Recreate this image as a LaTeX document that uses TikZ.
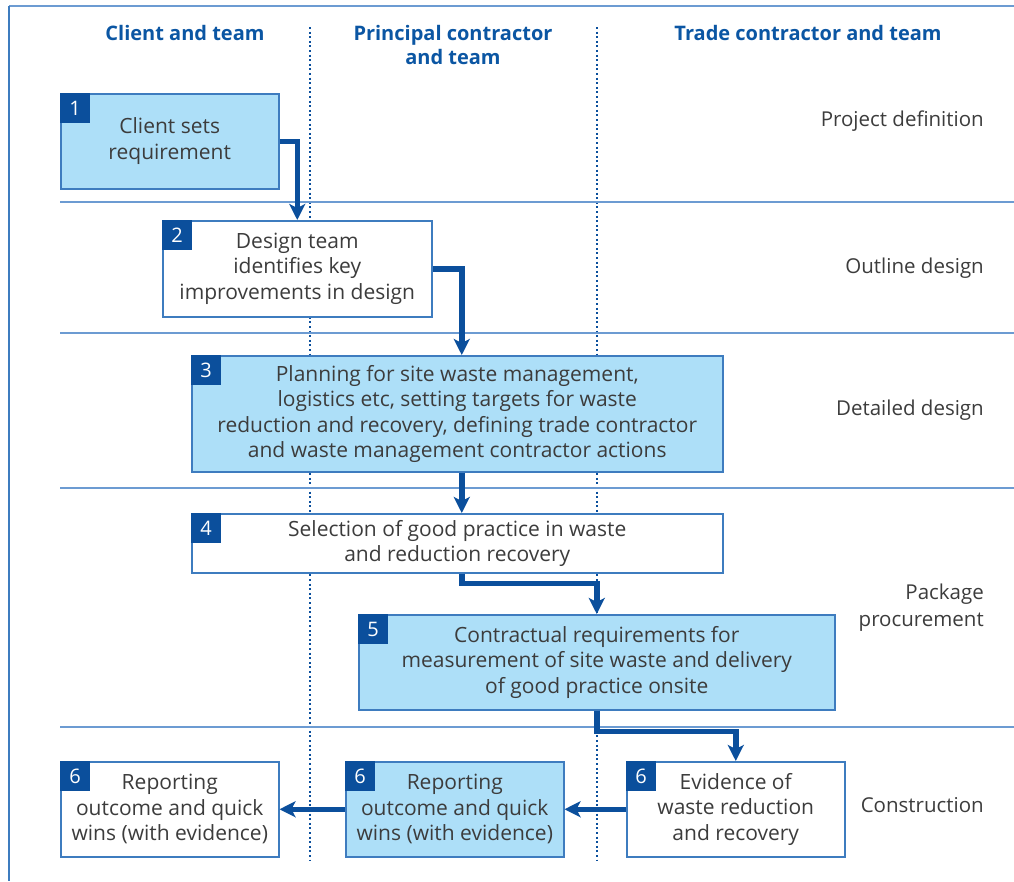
\documentclass[tikz,border=0pt]{standalone}
\usepackage{fontspec}
\setmainfont{Open Sans}
\usetikzlibrary{arrows.meta,calc}
\definecolor{lightfill}{HTML}{ADDFF8}
\definecolor{darkblue}{HTML}{0B4F9C}
\definecolor{boxline}{HTML}{3E7CBF}
\definecolor{sepline}{HTML}{6C9BD2}
\definecolor{headblue}{HTML}{0B56A3}
\definecolor{txt}{HTML}{3C3C3C}
\tikzset{
  x=1pt, y=-1pt,
  box/.style={draw=boxline, line width=1.5pt, fill=white, anchor=north west, inner sep=0pt,
    align=center, text=txt, font=\fontsize{21}{25.5}\selectfont},
  lbox/.style={box, fill=lightfill},
  tag/.style={fill=darkblue, anchor=north west, minimum width=30pt, minimum height=30pt,
    inner sep=0pt, text=white, font=\fontsize{20}{20}\selectfont},
  arr/.style={draw=darkblue, line width=5.5pt, -{Stealth[length=16pt,width=16pt,inset=4pt]}},
  sep/.style={draw=sepline, line width=1.3pt},
  lane/.style={draw=darkblue, line width=2pt, dash pattern=on 2pt off 2.6pt},
  head/.style={text=headblue, font=\bfseries\fontsize{20}{24}\selectfont, align=center},
  phase/.style={anchor=east, inner xsep=0pt, text=txt, align=right, font=\fontsize{20.5}{27}\selectfont},
}
\begin{document}
\begin{tikzpicture}
\useasboundingbox (0,0) rectangle (1014,881);
% frame
\draw[draw=sepline, line width=1.5pt] (9,6) -- (1014,6);
\draw[draw=boxline, line width=1.5pt] (9,6) -- (9,881);
% lanes
\draw[lane] (310,27) -- (310,860);
\draw[lane] (597,27) -- (597,860);
% separators
\foreach \yy in {202,333,488,727} \draw[sep] (60,\yy) -- (1014,\yy);
% headers
\node[head] (h1) at (185,33) {Client and team};
\node[head] (h2) at (453,45) {Principal contractor\\and team};
\node[head] (h3) at (808,33) {Trade contractor and team};
% phases
\node[phase] (p1) at (984,121) {Project definition};
\node[phase] (p2) at (984,268) {Outline design};
\node[phase] (p3) at (984,410) {Detailed design};
\node[phase] (p4) at (984,608) {Package\\procurement};
\node[phase] (p5) at (984,805) {Construction};
% boxes
\node[lbox, minimum width=218pt, minimum height=95pt] (b1) at (60,93) {Client sets\\requirement};
\node[box, minimum width=269pt, minimum height=96pt] (b2) at (162,220) {Design team\\identifies key\\improvements in design};
\node[lbox, minimum width=531pt, minimum height=116pt] (b3) at (191,355) {Planning for site waste management,\\logistics etc, setting targets for waste\\reduction and recovery, defining trade contractor\\and waste management contractor actions};
\node[box, minimum width=531pt, minimum height=59pt] (b4) at (191,513) {Selection of good practice in waste\\and reduction recovery};
\node[lbox, minimum width=476pt, minimum height=95pt] (b5) at (358,614) {Contractual requirements for\\measurement of site waste and delivery\\of good practice onsite};
\node[box, minimum width=218pt, minimum height=95pt] (b6a) at (60,761) {Reporting\\outcome and quick\\wins (with evidence)};
\node[lbox, minimum width=218pt, minimum height=95pt] (b6b) at (345,761) {Reporting\\outcome and quick\\wins (with evidence)};
\node[box, minimum width=218pt, minimum height=95pt] (b6c) at (626,761) {Evidence of\\waste reduction\\and recovery};
% tags
\node[tag] (t1) at (b1.north west) {1};
\node[tag] (t2) at (b2.north west) {2};
\node[tag] (t3) at (b3.north west) {3};
\node[tag] (t4) at (b4.north west) {4};
\node[tag] (t5) at (b5.north west) {5};
\node[tag] (t6a) at (b6a.north west) {6};
\node[tag] (t6b) at (b6b.north west) {6};
\node[tag] (t6c) at (b6c.north west) {6};
% arrows
\draw[arr] (b1.east) -| (b2.north);
\draw[arr] (b2.east) -| ([xshift=4.5pt]b3.north);
\draw[arr] ([xshift=4.5pt]b3.south) -- ([xshift=4.5pt]b4.north);
\draw[arr] ([xshift=4.5pt]b4.south) -- ++(0,10) -| (b5.north);
\draw[arr] (b5.south) -- ++(0,21) -| (b6c.north);
\draw[arr] (b6c.west) -- (b6b.east);
\draw[arr] (b6b.west) -- (b6a.east);
\end{tikzpicture}
\end{document}
